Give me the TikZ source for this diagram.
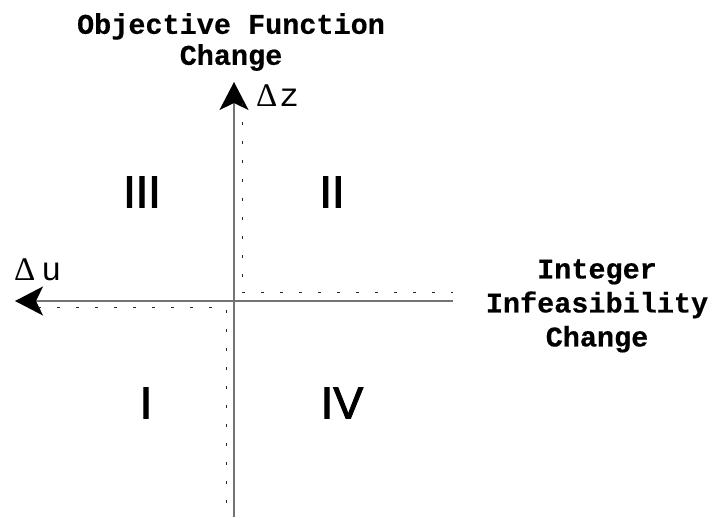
\documentclass[tikz,border=0pt]{standalone}
\usepackage{fontspec}
\newfontfamily\labfont{Liberation Mono}[BoldFeatures={FakeBold=0.4}]
\newfontfamily\quadfont{Liberation Sans}[FakeBold=2.2]
\newfontfamily\grkfont{Liberation Serif}
\usetikzlibrary{arrows.meta}

\begin{document}
\begin{tikzpicture}[x=1pt,y=-1pt,
  axis/.style={draw=black!55,line width=1.3pt,-{Stealth[length=28pt,width=29pt,inset=7pt,color=black]}},
  guide/.style={draw=black!85,line width=1pt,dash pattern=on 3pt off 16pt},
  title/.style={font=\labfont\bfseries\fontsize{28.5}{31}\selectfont,align=center,inner sep=0pt},
  quad/.style={font=\quadfont\fontsize{45}{45}\selectfont,inner sep=0pt},
  delta/.style={font=\labfont\fontsize{33}{34}\selectfont,inner sep=0pt,anchor=base west}]
\useasboundingbox (0,0) rectangle (717,518);
% axes
\coordinate (origin) at (234,301);
\coordinate (zbottom) at (234,517);
\coordinate (ztop) at (234,82);
\coordinate (uright) at (453,301);
\coordinate (uleft) at (15,301);
\draw[axis] (zbottom) -- (ztop);
\draw[axis] (uright) -- (uleft);
% dotted guides
\coordinate (ga) at (242,103);
\coordinate (gb) at (242,293);
\coordinate (gc) at (453,293);
\coordinate (gd) at (38,308);
\coordinate (ge) at (226,308);
\coordinate (gf) at (226,503);
\draw[guide] (ga) -- (gb) -- (gc);
\draw[guide] (gd) -- (ge) -- (gf);
% labels
\node[title] (objlab) at (231,42) {Objective Function\\Change};
\node[title,font=\labfont\bfseries\fontsize{28.5}{34}\selectfont] (intlab) at (597,306) {Integer\\Infeasibility\\Change};
\node[delta] (dz) at (256,107) {{\grkfont\fontsize{33}{34}\selectfont\char"0394}\hspace{2pt}z};
\node[delta] (du) at (14,281) {{\grkfont\fontsize{33}{34}\selectfont\char"0394}\hspace{6pt}u};
% quadrants
\node[quad] (q3) at (142,192) {III};
\node[quad] (q2) at (332,192) {II};
\node[quad] (q1) at (146,403) {I};
\node[quad] (q4) at (342,403) {IV};
\end{tikzpicture}
\end{document}
